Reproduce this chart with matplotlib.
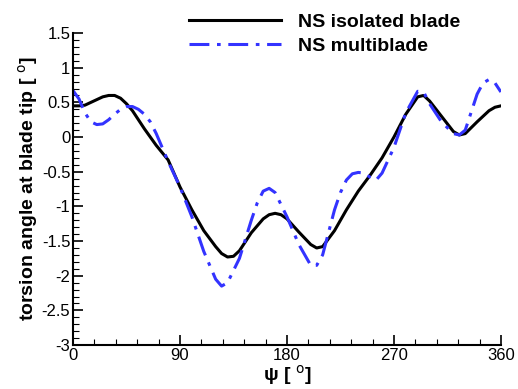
import matplotlib
matplotlib.use("Agg")
import matplotlib.pyplot as plt
from matplotlib.ticker import MultipleLocator

# azimuth (deg) and tip torsion (deg)
psi_iso = [0, 5, 10, 15, 20, 25, 30, 35, 40, 45, 50, 60, 70, 80, 90, 100, 110, 120, 125, 130, 135,
           140, 150, 160, 165, 170, 175, 180, 190, 200, 205, 210, 220, 230, 240, 250, 260, 270, 280,
           290, 295, 300, 310, 320, 325, 330, 340, 350, 355, 360]
tor_iso = [0.45, 0.45, 0.46, 0.50, 0.54, 0.58, 0.60, 0.60, 0.56, 0.48, 0.38, 0.12, -0.12, -0.33,
           -0.72, -1.05, -1.35, -1.58, -1.68, -1.73, -1.72, -1.64, -1.38, -1.18, -1.12, -1.10,
           -1.12, -1.18, -1.37, -1.55, -1.60, -1.58, -1.35, -1.05, -0.78, -0.55, -0.30, 0.0, 0.33,
           0.58, 0.60, 0.52, 0.30, 0.08, 0.03, 0.05, 0.22, 0.38, 0.43, 0.45]

psi_multi = [0, 5, 10, 15, 20, 25, 30, 35, 40, 45, 50, 55, 60, 65, 70, 80, 90, 100, 110, 120,
             125, 130, 140, 150, 155, 160, 165, 170, 180, 190, 200, 205, 210, 220, 225, 230,
             235, 240, 245, 250, 255, 260, 270, 280, 290, 295, 300, 310, 320, 325, 330, 340,
             345, 350, 355, 360]
tor_multi = [0.67, 0.55, 0.35, 0.22, 0.18, 0.19, 0.25, 0.33, 0.40, 0.44, 0.44, 0.40, 0.33, 0.22,
             0.05, -0.35, -0.72, -1.15, -1.65, -2.05, -2.15, -2.10, -1.75, -1.20, -0.95, -0.78,
             -0.74, -0.80, -1.15, -1.55, -1.85, -1.85, -1.70, -1.05, -0.80, -0.62, -0.53, -0.51,
             -0.52, -0.58, -0.62, -0.52, -0.15, 0.35, 0.66, 0.65, 0.48, 0.22, 0.05, 0.03, 0.10,
             0.62, 0.78, 0.83, 0.78, 0.65]

plt.rcParams['font.family'] = 'Liberation Sans'

fig = plt.figure(figsize=(5.18, 3.89), dpi=100)
ax = fig.add_axes([0.141, 0.113, 0.826, 0.802])

ax.plot(psi_iso, tor_iso, color='black', lw=2.2, label='NS isolated blade')
ax.plot(psi_multi, tor_multi, color='#3333ff', lw=2.2, dashes=(6.5, 2.5, 1.2, 2.5),
        label='NS multiblade')

ax.set_xlim(0, 360)
ax.set_ylim(-3, 1.5)
ax.xaxis.set_major_locator(MultipleLocator(90))
ax.xaxis.set_minor_locator(MultipleLocator(18))
ax.yaxis.set_minor_locator(MultipleLocator(0.1))
ax.set_yticks([1.5, 1, 0.5, 0, -0.5, -1, -1.5, -2, -2.5, -3])
ax.set_yticklabels(['1.5', '1', '0.5', '0', '-0.5', '-1', '-1.5', '-2', '-2.5', '-3'])

for s in ['top', 'right']:
    ax.spines[s].set_visible(False)
for s in ['left', 'bottom']:
    ax.spines[s].set_linewidth(1.5)
ax.tick_params(which='major', direction='in', length=7, width=1.2, labelsize=12, pad=2)
ax.tick_params(which='minor', direction='in', length=4, width=0.8)

ax.set_xlabel('ψ [ $^\\mathrm{o}$]', fontsize=14, fontweight='bold', labelpad=0)
ax.set_ylabel('torsion angle at blade tip [ $^\\mathrm{o}$]', fontsize=14, fontweight='bold',
              labelpad=1)

leg = ax.legend(loc='upper left', bbox_to_anchor=(0.249, 1.095), frameon=False,
                prop={'size': 14, 'weight': 'bold'},
                handlelength=4.7, handletextpad=0.9, labelspacing=0.32, borderpad=0)

fig.savefig('out.png', dpi=100)
